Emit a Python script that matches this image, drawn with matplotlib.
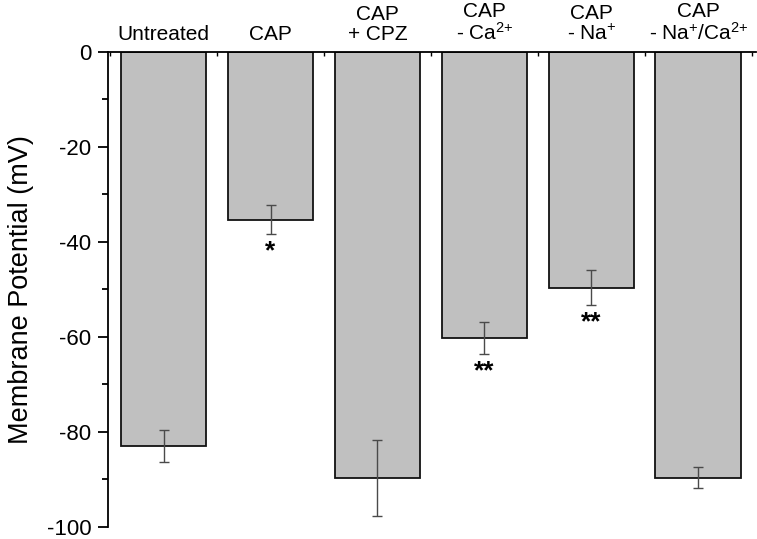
import matplotlib
matplotlib.use("Agg")
import matplotlib.pyplot as plt
from matplotlib.ticker import MultipleLocator

plt.rcParams['font.family'] = ['Liberation Sans', 'DejaVu Sans']
plt.rcParams['mathtext.fontset'] = 'custom'
plt.rcParams['mathtext.rm'] = 'Liberation Sans'
plt.rcParams['mathtext.it'] = 'Liberation Sans'
plt.rcParams['axes.unicode_minus'] = False

categories = ['Untreated', 'CAP', 'CAP\n+ CPZ', 'CAP\n- Ca$^{2{+}}$', 'CAP\n- Na$^{{+}}$',
              'CAP\n- Na$^{{+}}$/Ca$^{2{+}}$']
values = [-83.0, -35.3, -89.6, -60.2, -49.6, -89.6]
errors = [3.35, 3.0, 8.0, 3.4, 3.6, 2.2]
signif = ['', '*', '', '**', '**', '']

fig = plt.figure(figsize=(7.57, 5.39), dpi=100)
ax = fig.add_axes([108/757, 1 - 527/539, (756 - 108)/757, (527 - 52)/539])

x = list(range(len(categories)))
ax.bar(x, values, width=0.8, color='#c0c0c0', edgecolor='#111111', linewidth=1.3, zorder=2)
ax.errorbar(x, values, yerr=errors, fmt='none', ecolor='#4a4a4a', elinewidth=1.0,
            capsize=3.5, capthick=1.0, zorder=3)

for xi, v, e, s in zip(x, values, errors, signif):
    if s:
        ax.annotate(s, xy=(xi, v - e), xytext=(0, -4), textcoords='offset points',
                    ha='center', va='top', fontsize=19, fontweight='bold')

ax.set_xlim(-0.52, 5.54)
ax.set_ylim(-100, 0)

ax.xaxis.tick_top()
ax.set_xticks(x)
ax.set_xticklabels(categories, fontsize=15, linespacing=1.05)
ax.set_xticks([i + 0.5 for i in range(-1, len(categories))], minor=True)
ax.tick_params(axis='x', which='major', direction='in', length=6, width=1.0, pad=6)
ax.tick_params(axis='x', which='minor', direction='in', length=3, width=1.0)

ax.yaxis.set_major_locator(MultipleLocator(20))
ax.yaxis.set_minor_locator(MultipleLocator(10))
ax.tick_params(axis='y', which='major', direction='out', length=7, width=1.3, labelsize=16, pad=5)
ax.tick_params(axis='y', which='minor', direction='out', length=4, width=1.3)
ax.set_ylabel('Membrane Potential (mV)', fontsize=19.5, labelpad=9)

ax.spines['bottom'].set_visible(False)
ax.spines['right'].set_visible(False)
ax.spines['top'].set_linewidth(1.3)
ax.spines['left'].set_linewidth(1.3)

fig.savefig('out.png', dpi=100)
